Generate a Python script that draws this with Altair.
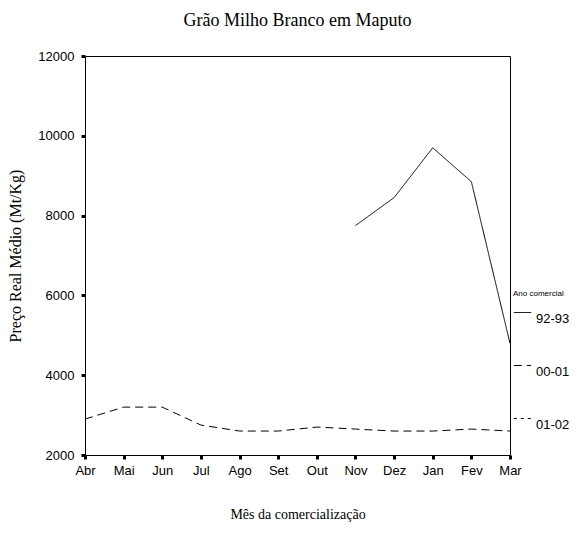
import altair as alt
import pandas as pd

months = ["Abr", "Mai", "Jun", "Jul", "Ago", "Set", "Out", "Nov", "Dez", "Jan", "Fev", "Mar"]
series_names = ["92-93", "00-01", "01-02"]
v_9293 = [None, None, None, None, None, None, None, 7750, 8450, 9700, 8850, 4800]
v_0001 = [2900, 3200, 3200, 2750, 2600, 2600, 2700, 2650, 2600, 2600, 2650, 2600]
v_0102 = [None] * 12

rows = []
for name, vals in zip(series_names, [v_9293, v_0001, v_0102]):
    for m, v in zip(months, vals):
        rows.append({"mes": m, "ano": name, "preco": v})
df = pd.DataFrame(rows)

sans = "Liberation Sans"
serif = "Liberation Serif"
W, H = 425, 399
xscale = alt.Scale(type="point", padding=0)
yscale = alt.Scale(domain=[2000, 12000], nice=False, zero=False)

lines = alt.Chart(df).mark_line(color="black", strokeWidth=1).encode(
    x=alt.X("mes:N", sort=months, scale=xscale,
            axis=alt.Axis(title="Mês da comercialização", labelAngle=0,
                          labelFont=sans, labelFontSize=13,
                          labelColor="black", titleFont=serif,
                          titleFontSize=14, titleFontWeight="normal", titleColor="black",
                          titleY=59, titleBaseline="middle",
                          domainColor="black", tickColor="black",
                          tickSize=4, tickWidth=3, labelPadding=5, grid=False)),
    y=alt.Y("preco:Q", scale=yscale,
            axis=alt.Axis(title="Preço Real Médio (Mt/Kg)", values=[2000, 4000, 6000, 8000, 10000, 12000],
                          format="d",
                          labelFont=sans, labelFontSize=13,
                          labelColor="black", titleFont=serif,
                          titleFontSize=16, titleFontWeight="normal", titleColor="black",
                          titleX=-70, titleBaseline="middle",
                          domainColor="black", tickColor="black",
                          tickSize=4, tickWidth=3, labelPadding=7, grid=False)),
    strokeDash=alt.StrokeDash("ano:N",
                              scale=alt.Scale(domain=series_names, range=[[1, 0], [8, 5], [3, 4]]),
                              legend=alt.Legend(title="Ano comercial", orient="none",
                                                legendX=428, legendY=234,
                                                titleFont=sans, titleFontSize=8,
                                                titleFontWeight="normal", titleColor="black",
                                                labelFont=sans, labelFontSize=13,
                                                labelColor="black", labelBaseline="top",
                                                symbolType="stroke",
                                                symbolStrokeColor="black", symbolStrokeWidth=1,
                                                symbolSize=300, rowPadding=30)),
)

frame = alt.Chart(df).mark_line(opacity=0).encode(
    x=alt.X("mes:N", sort=months, scale=xscale,
            axis=alt.Axis(orient="top", title=None, labels=False, ticks=False,
                          domainColor="black", domainWidth=1, grid=False)),
    y=alt.Y("preco:Q", scale=yscale,
            axis=alt.Axis(orient="right", title=None, labels=False, ticks=False,
                          domainColor="black", domainWidth=1, grid=False)),
    detail="ano:N",
)

chart = alt.layer(lines, frame).resolve_axis(x="independent", y="independent").properties(
    width=W, height=H,
    title=alt.Title("Grão Milho Branco em Maputo", font=serif, fontSize=18,
                    fontWeight="normal", color="black", offset=20),
    autosize=alt.AutoSizeParams(type="none"),
    padding={"left": 77, "top": 48, "right": 68, "bottom": 72},
).configure(background="white").configure_view(strokeWidth=0)

chart.save("out.html", embed_options={"renderer": "svg", "actions": False})
